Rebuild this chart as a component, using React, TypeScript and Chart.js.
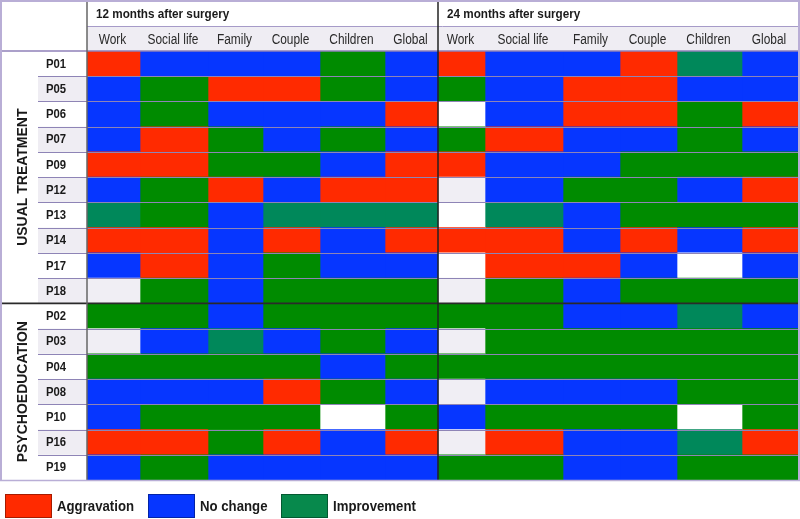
import { useEffect, useRef } from "react";
import Chart from "chart.js/auto";

// ---------- data ----------
const patients = ["P01", "P05", "P06", "P07", "P09", "P12", "P13", "P14", "P17", "P18", "P02", "P03", "P04", "P08", "P10", "P16", "P19"];
const groupNames = ["USUAL TREATMENT", "PSYCHOEDUCATION"];
const groupSizes = [10, 7];
const periods = ["12 months after surgery", "24 months after surgery"];
const domains = ["Work", "Social life", "Family", "Couple", "Children", "Global"];
// A = aggravation, N = no change, I = improvement, T = improvement (teal shade), W = missing (white), M = missing (grey)
const outcomes12 = [
  "ANNNIN", "NIAAIN", "NINNNA", "NAININ", "AAIINA", "NIANAA", "TINTTT", "AANANA", "NANINN", "MINIII",
  "IINIII", "MNTNIN", "IIIINI", "NNNAIN", "NIIIWI", "AAIANA", "NINNNN",
];
const outcomes24 = [
  "ANNATN", "INAANN", "WNAAIA", "IANNIN", "ANNIII", "MNIINA", "WTNIII", "AANANA", "WAANWN", "MINIII",
  "IINNTN", "MIIIII", "IIIIII", "MNNNII", "NIIIWI", "MANNTA", "IINNII",
];
const legendLabels = ["Aggravation", "No change", "Improvement"];

// ---------- layout / style ----------
const colWidths = [
  [53, 68, 55, 57, 65, 53],
  [47, 78, 57, 57, 65, 56],
];
const colors: Record<string, string> = {
  A: "#ff2a00",
  N: "#0636ff",
  I: "#008b00",
  T: "#00885a",
  W: "#ffffff",
  M: "#f0eef4",
};
const legendColors = ["#ff2a00", "#0636ff", "#07894c"];
const FONT = '"Liberation Sans", Arial, sans-serif';

const bounds: number[] = [0];
colWidths.flat().forEach((w) => bounds.push(bounds[bounds.length - 1] + w));
const total = bounds[bounds.length - 1];

const outcomeTable = [outcomes12, outcomes24];

const datasets: any[] = [];
periods.forEach((p, pi) => {
  domains.forEach((d, di) => {
    const k = pi * 6 + di;
    datasets.push({
      label: `${p} – ${d}`,
      data: patients.map(() => [bounds[k], bounds[k + 1]]),
      backgroundColor: patients.map((_, ri) => colors[outcomeTable[pi][ri][di]]),
      borderWidth: 0,
      barPercentage: 1,
      categoryPercentage: 1,
      grouped: false,
    });
  });
});

function text(ctx: CanvasRenderingContext2D, s: string, x: number, y: number, font: string, align: CanvasTextAlign, sx = 1, color = "#222") {
  ctx.save();
  ctx.translate(x, y);
  ctx.scale(sx, 1);
  ctx.font = font;
  ctx.fillStyle = color;
  ctx.textAlign = align;
  ctx.textBaseline = "middle";
  ctx.fillText(s, 0, 0);
  ctx.restore();
}

function line(ctx: CanvasRenderingContext2D, x1: number, y1: number, x2: number, y2: number, color: string, w: number) {
  ctx.save();
  ctx.strokeStyle = color;
  ctx.lineWidth = w;
  ctx.beginPath();
  ctx.moveTo(x1, y1);
  ctx.lineTo(x2, y2);
  ctx.stroke();
  ctx.restore();
}

const tablePlugin = {
  id: "tableDecor",
  beforeDraw(chart: any) {
    const ctx = chart.ctx as CanvasRenderingContext2D;
    const a = chart.chartArea;
    const y = chart.scales.y;
    const W = chart.width;
    ctx.save();
    ctx.fillStyle = "#ffffff";
    ctx.fillRect(0, 0, W, chart.height);
    // header row 2 background
    ctx.fillStyle = "#efedf3";
    ctx.fillRect(a.left, a.top - 25, a.right - a.left, 25);
    // label cells background
    const rowH = (a.bottom - a.top) / patients.length;
    let idx = 0;
    groupSizes.forEach((n) => {
      for (let j = 0; j < n; j++) {
        if (j % 2 === 1) {
          const top = y.getPixelForValue(idx) - rowH / 2;
          ctx.fillRect(38, top, a.left - 38, rowH);
        }
        idx++;
      }
    });
    ctx.restore();
  },
  afterDatasetsDraw(chart: any) {
    const ctx = chart.ctx as CanvasRenderingContext2D;
    const a = chart.chartArea;
    const x = chart.scales.x;
    const y = chart.scales.y;
    const W = chart.width;
    const rowH = (a.bottom - a.top) / patients.length;
    const rowTop = (i: number) => y.getPixelForValue(i) - rowH / 2;
    const hdrSplit = a.top - 25;

    // row lines
    const groupStarts: number[] = [];
    let acc = 0;
    groupSizes.forEach((n) => {
      groupStarts.push(acc);
      acc += n;
    });
    for (let i = 1; i < patients.length; i++) {
      if (groupStarts.includes(i)) continue;
      const yy = Math.round(rowTop(i)) + 0.5;
      line(ctx, 38, yy, a.right, yy, "#8e84b6", 1);
    }
    // header lines
    line(ctx, a.left, hdrSplit + 0.5, a.right, hdrSplit + 0.5, "#a69bc8", 1);
    line(ctx, 0, a.top, W, a.top, "#8f80b8", 1.5);
    // group separators
    groupStarts.slice(1).forEach((gi) => {
      const yy = rowTop(gi);
      line(ctx, 0, yy, W, yy, "#2a2a2a", 1.6);
    });
    // vertical separators
    line(ctx, a.left, 0, a.left, a.bottom, "#666", 1.5);
    const midX = x.getPixelForValue(bounds[6]);
    line(ctx, midX, 0, midX, a.bottom, "#222", 1.5);
    // frame
    line(ctx, 1, 0, 1, a.bottom, "#b9aed6", 2);
    line(ctx, 0, 1, W, 1, "#b9aed6", 2);
    line(ctx, W - 1, 0, W - 1, a.bottom, "#b9aed6", 2);
    line(ctx, 0, a.bottom + 0.5, W, a.bottom + 0.5, "#b9aed6", 1.5);

    // header texts
    periods.forEach((p, pi) => {
      const sx = x.getPixelForValue(bounds[pi * 6]);
      text(ctx, p, sx + 9, 14, `bold 13px ${FONT}`, "left", 0.9, "#1a1a1a");
      domains.forEach((d, di) => {
        const k = pi * 6 + di;
        const cx = x.getPixelForValue((bounds[k] + bounds[k + 1]) / 2) - 1;
        text(ctx, d, cx, hdrSplit + 14, `14px ${FONT}`, "center", 0.85, "#2a2a2a");
      });
    });
    // row labels
    patients.forEach((p, i) => {
      text(ctx, p, 46, y.getPixelForValue(i) + 0.5, `bold 13px ${FONT}`, "left", 0.87, "#1a1a1a");
    });
    // group labels
    groupNames.forEach((g, gi) => {
      const top = rowTop(groupStarts[gi]);
      const bottom = top + groupSizes[gi] * rowH;
      ctx.save();
      ctx.translate(23, (top + bottom) / 2);
      ctx.rotate(-Math.PI / 2);
      ctx.font = `bold 14px ${FONT}`;
      ctx.fillStyle = "#1a1a1a";
      ctx.textAlign = "center";
      ctx.textBaseline = "middle";
      ctx.fillText(g, 0, 0);
      ctx.restore();
    });

    // legend
    const ly = a.bottom + 14;
    const boxX = [5, 148, 281];
    legendLabels.forEach((l, li) => {
      ctx.save();
      ctx.fillStyle = legendColors[li];
      ctx.fillRect(boxX[li], ly, 47, 24);
      ctx.strokeStyle = "rgba(0,0,0,0.35)";
      ctx.lineWidth = 1;
      ctx.strokeRect(boxX[li] + 0.5, ly + 0.5, 46, 23);
      ctx.restore();
      text(ctx, l, boxX[li] + 52, ly + 13, `bold 15px ${FONT}`, "left", 0.88, "#1a1a1a");
    });
  },
};

export default function App() {
  const ref = useRef<HTMLCanvasElement>(null);
  useEffect(() => {
    const chart = new Chart(ref.current!, {
      type: "bar",
      data: { labels: patients, datasets },
      options: {
        indexAxis: "y",
        responsive: false,
        maintainAspectRatio: false,
        animation: false,
        layout: { padding: { left: 87, top: 51, right: 2, bottom: 39 } },
        plugins: { legend: { display: false }, tooltip: { enabled: true } },
        scales: {
          x: { type: "linear", min: 0, max: total, display: false },
          y: { type: "category", display: false, offset: true },
        },
      },
      plugins: [tablePlugin],
    } as any);
    return () => chart.destroy();
  }, []);
  return (
    <div style={{ position: "fixed", left: 0, top: 0, width: 800, height: 519, background: "#fff" }}>
      <canvas ref={ref} width={800} height={519} style={{ display: "block", width: 800, height: 519 }} />
    </div>
  );
}
